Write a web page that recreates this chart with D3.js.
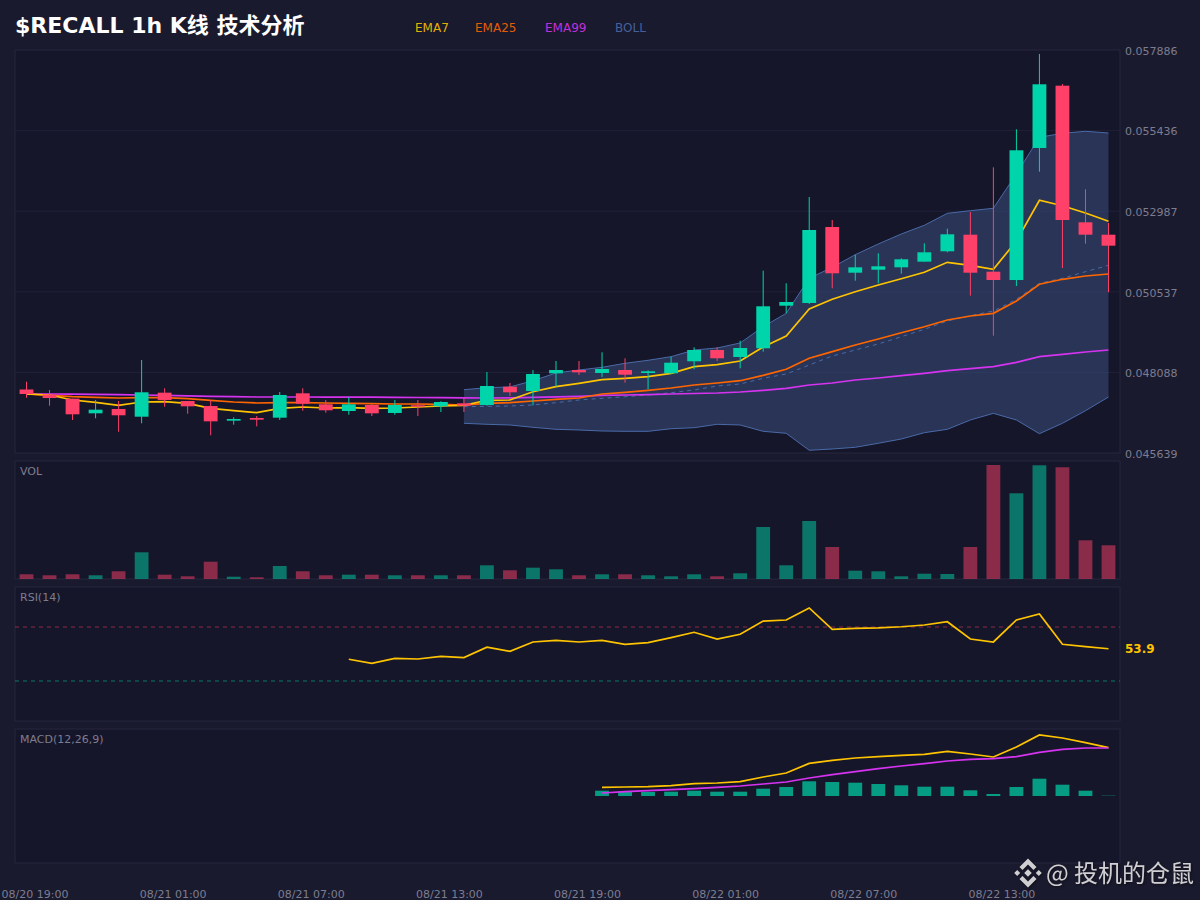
<!DOCTYPE html>
<html>
<head>
<meta charset="utf-8">
<title>$RECALL 1h</title>
<script src="https://cdn.jsdelivr.net/npm/d3@7"></script>
<style>
  html, body { margin: 0; padding: 0; background: #1a1a2e; }
  svg { display: block; }
  text { font-family: "DejaVu Sans", "Noto Sans CJK SC", sans-serif; }
</style>
</head>
<body>
<div class="canvas"></div>
<script>
// candles, oldest first
const opens = [0.047569, 0.047417, 0.047289, 0.046845, 0.046976, 0.046742, 0.047472, 0.047219, 0.047067, 0.046621, 0.046703, 0.046712, 0.047453, 0.047119, 0.046915, 0.047098, 0.046855, 0.047089, 0.047058, 0.047149, 0.047098, 0.047654, 0.047523, 0.048061, 0.048161, 0.048070, 0.048161, 0.048070, 0.048061, 0.048426, 0.048769, 0.048556, 0.048821, 0.050115, 0.050198, 0.052507, 0.051118, 0.051209, 0.051282, 0.051453, 0.051769, 0.052273, 0.051149, 0.050896, 0.054908, 0.056801, 0.052650, 0.052273];
const closes = [0.047432, 0.047310, 0.046815, 0.046955, 0.046785, 0.047484, 0.047250, 0.047058, 0.046602, 0.046672, 0.046651, 0.047402, 0.047137, 0.046937, 0.047119, 0.046845, 0.047098, 0.047046, 0.047189, 0.047076, 0.047675, 0.047484, 0.048040, 0.048161, 0.048091, 0.048192, 0.048019, 0.048122, 0.048383, 0.048769, 0.048517, 0.048830, 0.050097, 0.050228, 0.052416, 0.051100, 0.051282, 0.051313, 0.051526, 0.051738, 0.052285, 0.051118, 0.050896, 0.054838, 0.056844, 0.052720, 0.052273, 0.051939];
const highs = [0.047806, 0.047554, 0.047289, 0.047250, 0.047219, 0.048465, 0.047605, 0.047219, 0.047250, 0.046724, 0.046763, 0.047493, 0.047605, 0.047250, 0.047332, 0.047128, 0.047250, 0.047250, 0.047210, 0.047310, 0.048101, 0.047766, 0.048161, 0.048435, 0.048435, 0.048699, 0.048517, 0.048152, 0.048566, 0.048851, 0.048851, 0.049052, 0.051179, 0.050796, 0.053419, 0.052720, 0.051665, 0.051708, 0.051556, 0.052012, 0.052456, 0.052963, 0.054321, 0.055476, 0.057765, 0.056853, 0.053653, 0.052629];
const lows = [0.047320, 0.047076, 0.046642, 0.046694, 0.046286, 0.046542, 0.047046, 0.046833, 0.046177, 0.046499, 0.046450, 0.046642, 0.046924, 0.046864, 0.046803, 0.046763, 0.046803, 0.046763, 0.046885, 0.046885, 0.047076, 0.047371, 0.047089, 0.047654, 0.048009, 0.047949, 0.047775, 0.047584, 0.048040, 0.048183, 0.048435, 0.048213, 0.048718, 0.049884, 0.050167, 0.050644, 0.050875, 0.050796, 0.051088, 0.051453, 0.051738, 0.050419, 0.049204, 0.050714, 0.054188, 0.051261, 0.052000, 0.050523];
const volumes = [47, 37, 47, 37, 77, 267, 43, 27, 173, 23, 17, 130, 77, 37, 43, 43, 37, 37, 37, 37, 137, 87, 113, 97, 37, 47, 47, 37, 27, 47, 27, 57, 520, 137, 580, 320, 83, 77, 27, 53, 50, 320, 1140, 857, 1137, 1117, 387, 337];

// moving averages
const ema7 = [0.047432, 0.047402, 0.047250, 0.047180, 0.047089, 0.047189, 0.047198, 0.047149, 0.046997, 0.046924, 0.046864, 0.046997, 0.047037, 0.047007, 0.047016, 0.046997, 0.047007, 0.047037, 0.047067, 0.047089, 0.047241, 0.047250, 0.047502, 0.047654, 0.047757, 0.047867, 0.047909, 0.047958, 0.048061, 0.048262, 0.048322, 0.048435, 0.048860, 0.049195, 0.050015, 0.050310, 0.050541, 0.050745, 0.050936, 0.051131, 0.051434, 0.051343, 0.051222, 0.052082, 0.053319, 0.053154, 0.052933, 0.052680];
const ema25 = [0.047432, 0.047392, 0.047350, 0.047332, 0.047310, 0.047320, 0.047320, 0.047289, 0.047241, 0.047189, 0.047159, 0.047168, 0.047168, 0.047159, 0.047149, 0.047137, 0.047128, 0.047128, 0.047119, 0.047098, 0.047149, 0.047168, 0.047219, 0.047271, 0.047310, 0.047432, 0.047484, 0.047544, 0.047614, 0.047706, 0.047766, 0.047836, 0.048000, 0.048183, 0.048517, 0.048718, 0.048921, 0.049103, 0.049295, 0.049477, 0.049681, 0.049802, 0.049884, 0.050258, 0.050766, 0.050918, 0.051018, 0.051079];
const ema99 = [0.047432, 0.047432, 0.047426, 0.047420, 0.047411, 0.047402, 0.047389, 0.047377, 0.047362, 0.047350, 0.047341, 0.047341, 0.047341, 0.047338, 0.047335, 0.047335, 0.047332, 0.047326, 0.047320, 0.047314, 0.047310, 0.047316, 0.047332, 0.047347, 0.047362, 0.047392, 0.047402, 0.047411, 0.047432, 0.047447, 0.047462, 0.047493, 0.047544, 0.047605, 0.047706, 0.047766, 0.047857, 0.047918, 0.047988, 0.048061, 0.048140, 0.048201, 0.048262, 0.048395, 0.048566, 0.048638, 0.048708, 0.048769];

// bollinger starts at candle 19
const bollStart = 19;
const bollUpper = [0.047563, 0.047623, 0.047645, 0.047836, 0.048070, 0.048161, 0.048243, 0.048365, 0.048456, 0.048566, 0.048769, 0.048830, 0.048982, 0.049477, 0.049884, 0.050948, 0.051282, 0.051665, 0.051991, 0.052294, 0.052559, 0.052923, 0.053003, 0.053075, 0.054118, 0.055233, 0.055354, 0.055415, 0.055364];
const bollMid = [0.047046, 0.047058, 0.047067, 0.047098, 0.047168, 0.047250, 0.047301, 0.047350, 0.047402, 0.047472, 0.047554, 0.047675, 0.047736, 0.047909, 0.048040, 0.048313, 0.048587, 0.048769, 0.048952, 0.049173, 0.049398, 0.049650, 0.049812, 0.049954, 0.050310, 0.050796, 0.050948, 0.051149, 0.051343];
const bollLower = [0.046542, 0.046511, 0.046490, 0.046420, 0.046359, 0.046338, 0.046308, 0.046298, 0.046298, 0.046377, 0.046408, 0.046511, 0.046490, 0.046298, 0.046238, 0.045721, 0.045761, 0.045812, 0.045934, 0.046064, 0.046256, 0.046359, 0.046642, 0.046845, 0.046642, 0.046226, 0.046542, 0.046924, 0.047341];

// rsi starts at candle 14
const rsiStart = 14;
const rsi = [46.1, 43.1, 46.8, 46.3, 48.3, 47.3, 55.0, 52.0, 58.9, 60.1, 58.9, 60.1, 57.2, 58.4, 62.1, 66.1, 61.1, 64.6, 74.4, 75.2, 84.1, 68.3, 69.0, 69.3, 70.2, 71.5, 73.9, 61.1, 58.9, 75.2, 79.6, 57.2, 55.4, 53.9];

// macd starts at candle 25
const macdStart = 25;
const macdLine = [0.000172, 0.000180, 0.000186, 0.000206, 0.000246, 0.000260, 0.000286, 0.000380, 0.000460, 0.000652, 0.000712, 0.000760, 0.000786, 0.000812, 0.000832, 0.000892, 0.000840, 0.000780, 0.000980, 0.001220, 0.001160, 0.001066, 0.000966];
const macdSignal = [0.000060, 0.000086, 0.000106, 0.000126, 0.000146, 0.000172, 0.000200, 0.000240, 0.000280, 0.000360, 0.000426, 0.000486, 0.000546, 0.000600, 0.000646, 0.000700, 0.000732, 0.000746, 0.000786, 0.000872, 0.000932, 0.000960, 0.000960];
const macdHist = [0.000106, 0.000086, 0.000080, 0.000086, 0.000106, 0.000086, 0.000086, 0.000146, 0.000180, 0.000294, 0.000280, 0.000266, 0.000240, 0.000214, 0.000186, 0.000186, 0.000114, 0.000040, 0.000180, 0.000346, 0.000226, 0.000106, 0.000006];

const priceTicks = [0.057886, 0.055436, 0.052987, 0.050537, 0.048088, 0.045639];
const timeTickIndex = [0, 6, 12, 18, 24, 30, 36, 42];
const timeLabels = ['08/20 19:00', '08/21 01:00', '08/21 07:00', '08/21 13:00', '08/21 19:00', '08/22 01:00', '08/22 07:00', '08/22 13:00'];
const legendNames = ['EMA7', 'EMA25', 'EMA99', 'BOLL'];

const colors = {
  bg: '#1a1a2e',
  panel: '#16162a',
  border: '#24243f',
  grid: '#20203a',
  up: '#00d4aa',
  down: '#ff4069',
  ema7: '#ffc400',
  ema25: '#ff6600',
  ema99: '#d633f0',
  boll: '#4a6aa8',
  axis: '#7d7d90'
};

const panels = {
  left: 15,
  right: 1120,
  main: { top: 50, bottom: 453 },
  vol: { top: 461, bottom: 579 },
  rsi: { top: 587, bottom: 721 },
  macd: { top: 729, bottom: 863 }
};

// create svg container
const svg = d3
  .select('.canvas')
  .append('svg')
  .attr('width', 1200)
  .attr('height', 900);

svg.append('rect').attr('width', 1200).attr('height', 900).attr('fill', colors.bg);

// scales
const x = d3
  .scaleBand()
  .domain(d3.range(opens.length))
  .range([panels.left, panels.right])
  .paddingInner(0.4)
  .paddingOuter(0.2);
const cx = i => x(i) + x.bandwidth() / 2;

const y = d3
  .scaleLinear()
  .domain([priceTicks[5], priceTicks[0]])
  .range([panels.main.bottom, panels.main.top]);
const yVol = d3
  .scaleLinear()
  .domain([0, d3.max(volumes)])
  .range([panels.vol.bottom, 465]);
const yRsi = d3
  .scaleLinear()
  .domain([0, 100])
  .range([721.5, 586.5]);
const yMacd = d3
  .scaleLinear()
  .domain([-0.00134, 0.00134])
  .range([panels.macd.bottom, panels.macd.top]);

// panel backgrounds
Object.keys(panels)
  .filter(k => panels[k].top)
  .forEach(k => {
    svg
      .append('rect')
      .attr('x', panels.left)
      .attr('y', panels[k].top)
      .attr('width', panels.right - panels.left)
      .attr('height', panels[k].bottom - panels[k].top)
      .attr('fill', colors.panel)
      .attr('stroke', colors.border)
      .attr('stroke-width', 1);
  });

// price grid
svg
  .append('g')
  .selectAll('line')
  .data(priceTicks.slice(1, 5))
  .join('line')
  .attr('x1', panels.left)
  .attr('x2', panels.right)
  .attr('y1', d => y(d))
  .attr('y2', d => y(d))
  .attr('stroke', colors.grid);

// price axis
const priceAxis = svg
  .append('g')
  .attr('transform', `translate(${panels.right}, 0.7)`)
  .call(
    d3
      .axisRight(y)
      .tickValues(priceTicks)
      .tickSize(0)
      .tickPadding(5)
      .tickFormat(d3.format('.6f'))
  );
priceAxis.select('.domain').remove();
priceAxis
  .selectAll('text')
  .attr('fill', colors.axis)
  .attr('font-size', 11)
  .style('font-family', '"DejaVu Sans"');

// time axis, labels sit a bit right of their candle
const timeAxis = svg
  .append('g')
  .attr('transform', `translate(8.5, 887)`)
  .call(
    d3
      .axisBottom(x)
      .tickValues(timeTickIndex)
      .tickSize(0)
      .tickPadding(3)
      .tickFormat(i => timeLabels[timeTickIndex.indexOf(i)])
  );
timeAxis.select('.domain').remove();
timeAxis
  .selectAll('text')
  .attr('fill', colors.axis)
  .attr('font-size', 11)
  .style('font-family', '"DejaVu Sans"');

// bollinger band
const band = svg.append('g');
const bollData = bollUpper.map((d, i) => ({
  i: i + bollStart,
  upper: d,
  mid: bollMid[i],
  lower: bollLower[i]
}));

band
  .append('path')
  .datum(bollData)
  .attr('fill', colors.boll)
  .attr('fill-opacity', 0.36)
  .attr(
    'd',
    d3
      .area()
      .x(d => cx(d.i))
      .y0(d => y(d.lower))
      .y1(d => y(d.upper))
  );

const bollLine = key =>
  d3
    .line()
    .x(d => cx(d.i))
    .y(d => y(d[key]));

['upper', 'lower', 'mid'].forEach(key => {
  band
    .append('path')
    .datum(bollData)
    .attr('fill', 'none')
    .attr('stroke', colors.boll)
    .attr('stroke-width', 1)
    .attr('stroke-dasharray', key === 'mid' ? '4,4' : null)
    .attr('d', bollLine(key));
});

// helper for lines that start at some candle
const drawLine = (values, start, scale, color, width) => {
  const line = d3
    .line()
    .x((d, i) => cx(i + start))
    .y(d => scale(d));
  svg
    .append('path')
    .datum(values)
    .attr('fill', 'none')
    .attr('stroke', color)
    .attr('stroke-width', width)
    .attr('d', line);
};

drawLine(ema99, 0, y, colors.ema99, 1.7);
drawLine(ema25, 0, y, colors.ema25, 1.7);
drawLine(ema7, 0, y, colors.ema7, 1.7);

// candles
const candleColor = i => (closes[i] >= opens[i] ? colors.up : colors.down);
const candles = svg
  .append('g')
  .selectAll('g')
  .data(d3.range(opens.length))
  .join('g');

candles
  .append('line')
  .attr('x1', cx)
  .attr('x2', cx)
  .attr('y1', i => y(highs[i]))
  .attr('y2', i => y(lows[i]))
  .attr('stroke', candleColor)
  .attr('stroke-width', 1);

candles
  .append('rect')
  .attr('x', i => x(i))
  .attr('width', x.bandwidth())
  .attr('y', i => y(Math.max(opens[i], closes[i])))
  .attr('height', i => Math.abs(y(opens[i]) - y(closes[i])))
  .attr('fill', candleColor);

// volume
svg
  .append('g')
  .selectAll('rect')
  .data(volumes)
  .join('rect')
  .attr('x', (d, i) => x(i))
  .attr('width', x.bandwidth())
  .attr('y', d => yVol(d))
  .attr('height', d => yVol(0) - yVol(d))
  .attr('fill', (d, i) => candleColor(i))
  .attr('fill-opacity', 0.5);

// rsi levels
[[70, colors.down], [30, colors.up]].forEach(([level, color]) => {
  svg
    .append('line')
    .attr('x1', panels.left)
    .attr('x2', panels.right)
    .attr('y1', yRsi(level))
    .attr('y2', yRsi(level))
    .attr('stroke', color)
    .attr('stroke-opacity', 0.5)
    .attr('stroke-dasharray', '4,4');
});

drawLine(rsi, rsiStart, yRsi, colors.ema7, 1.7);

svg
  .append('text')
  .attr('x', 1125)
  .attr('y', yRsi(rsi[rsi.length - 1]) + 4.5)
  .attr('fill', colors.ema7)
  .attr('font-size', 12)
  .attr('font-weight', 'bold')
  .text(rsi[rsi.length - 1].toFixed(1));

// macd histogram
svg
  .append('g')
  .selectAll('rect')
  .data(macdHist)
  .join('rect')
  .attr('x', (d, i) => x(i + macdStart))
  .attr('width', x.bandwidth())
  .attr('y', d => yMacd(d))
  .attr('height', d => yMacd(0) - yMacd(d))
  .attr('fill', colors.up)
  .attr('fill-opacity', 0.7);

drawLine(macdLine, macdStart, yMacd, colors.ema7, 1.7);
drawLine(macdSignal, macdStart, yMacd, colors.ema99, 1.7);

// titles
svg
  .append('text')
  .attr('x', 15)
  .attr('y', 33)
  .attr('fill', '#fff')
  .attr('font-size', 22)
  .attr('font-weight', 'bold')
  .text('$RECALL 1h K线 技术分析');

const legendColors = [colors.ema7, colors.ema25, colors.ema99, colors.boll];
const legendX = d3
  .scaleOrdinal()
  .domain(legendNames)
  .range([415, 475, 545, 615]);

svg
  .append('g')
  .selectAll('text')
  .data(legendNames)
  .join('text')
  .attr('x', d => legendX(d))
  .attr('y', 32)
  .attr('fill', (d, i) => legendColors[i])
  .attr('fill-opacity', 0.9)
  .attr('font-size', 12)
  .text(d => d);

[['VOL', panels.vol], ['RSI(14)', panels.rsi], ['MACD(12,26,9)', panels.macd]].forEach(([label, p]) => {
  svg
    .append('text')
    .attr('x', 20)
    .attr('y', p.top + 14)
    .attr('fill', colors.axis)
    .attr('font-size', 11)
    .text(label);
});

// watermark
const mark = svg
  .append('g')
  .attr('fill', '#fff')
  .attr('fill-opacity', 0.8)
  .style('filter', 'drop-shadow(1px 1px 1px rgba(0,0,0,0.6))');

const logo = mark.append('g').attr('transform', 'translate(1028, 873)');
logo
  .append('path')
  .attr(
    'd',
    'M0,-14.5L8.5,-6L5.5,-3L0,-8.5L-5.5,-3L-8.5,-6Z' +
      'M0,14.5L8.5,6L5.5,3L0,8.5L-5.5,3L-8.5,6Z' +
      'M0,-3.8L3.8,0L0,3.8L-3.8,0Z' +
      'M-10.8,-3L-7.8,0L-10.8,3L-13.8,0Z' +
      'M10.8,-3L13.8,0L10.8,3L7.8,0Z'
  );

mark
  .append('text')
  .attr('x', 1046)
  .attr('y', 882)
  .attr('font-size', 24)
  .style('font-family', '"Noto Sans CJK SC"')
  .text('@ 投机的仓鼠');
</script>
</body>
</html>
